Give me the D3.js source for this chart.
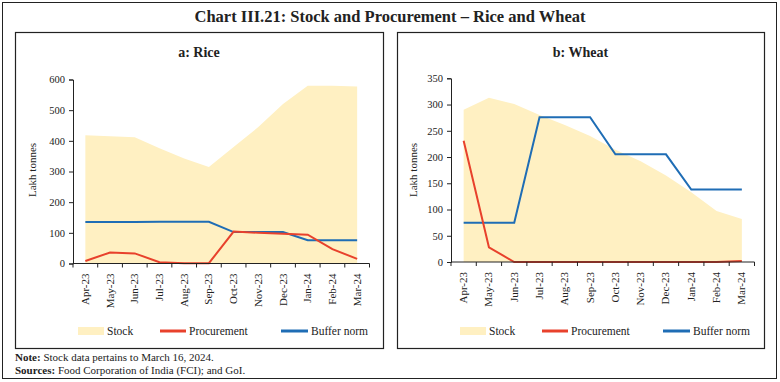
<!DOCTYPE html>
<html>
<head>
<meta charset="utf-8">
<script src="https://cdn.jsdelivr.net/npm/d3@7"></script>
<style>
  body { margin: 0; background: #fff; }
  svg text { font-family: "Liberation Serif", "DejaVu Serif", serif; fill: #222; }
</style>
</head>
<body>
<svg id="chart" width="780" height="382"></svg>
<script>
// Month labels shared by both panels
const months = ['Apr-23', 'May-23', 'Jun-23', 'Jul-23', 'Aug-23', 'Sep-23',
                'Oct-23', 'Nov-23', 'Dec-23', 'Jan-24', 'Feb-24', 'Mar-24'];

// Rice (lakh tonnes)
const riceStock = [418, 415, 412, 376, 342, 315, 380, 445, 520, 580, 580, 577];
const riceProcurement = [8, 36, 33, 4, 1, 1, 104, 100, 97, 94, 47, 15];
const riceBuffer = [135.4, 135.4, 135.4, 135.8, 135.8, 135.8, 102.5, 102.5, 102.5, 76.1, 76.1, 76.1];
const riceTicks = [0, 100, 200, 300, 400, 500, 600];

// Wheat (lakh tonnes)
const wheatStock = [290, 313, 301, 280, 261, 240, 214, 192, 165, 133, 97, 82];
const wheatProcurement = [231, 28, 0, 0, 0, 0, 0, 0, 0, 0, 0, 2];
const wheatBuffer = [74.6, 74.6, 74.6, 275.8, 275.8, 275.8, 205.2, 205.2, 205.2, 138, 138, 138];
const wheatTicks = [0, 50, 100, 150, 200, 250, 300, 350];

const stockColor = '#fff0c2';
const procColor = '#e8412c';
const bufferColor = '#1f6db5';

const svg = d3.select('#chart');

// Outer frame and main title
svg.append('rect')
    .attr('x', 2.5).attr('y', 2.5)
    .attr('width', 774).attr('height', 376)
    .attr('fill', 'none').attr('stroke', '#222').attr('stroke-width', 1);

svg.append('text')
    .attr('x', 390).attr('y', 22)
    .attr('text-anchor', 'middle')
    .style('font-size', '16.5px')
    .style('font-weight', 'bold')
    .text('Chart III.21: Stock and Procurement \u2013 Rice and Wheat');

// Draw one panel
function drawPanel(opts) {
    const g = svg.append('g');

    // panel border
    g.append('rect')
        .attr('x', opts.box[0] + 0.5).attr('y', 32.5)
        .attr('width', opts.box[1] - opts.box[0]).attr('height', 316)
        .attr('fill', '#fff').attr('stroke', '#222').attr('stroke-width', 1.2);

    g.append('text')
        .attr('x', (opts.box[0] + opts.box[1]) / 2).attr('y', 57)
        .attr('text-anchor', 'middle')
        .style('font-size', '14px')
        .style('font-weight', 'bold')
        .text(opts.title);

    const x = d3.scaleBand().domain(months).range([opts.x0, opts.x1]);
    const y = d3.scaleLinear().domain([0, opts.yMax]).range([opts.y0, opts.yTop]);
    const cx = m => x(m) + x.bandwidth() / 2;

    // stock area
    const area = d3.area()
        .x((d, i) => cx(months[i]))
        .y0(y(0))
        .y1(d => y(d));
    g.append('path')
        .datum(opts.stock)
        .attr('d', area)
        .attr('fill', stockColor);

    const line = d3.line()
        .x((d, i) => cx(months[i]))
        .y(d => y(d));

    g.append('path')
        .datum(opts.buffer)
        .attr('d', line)
        .attr('fill', 'none')
        .attr('stroke', bufferColor)
        .attr('stroke-width', 2);

    g.append('path')
        .datum(opts.proc)
        .attr('d', line)
        .attr('fill', 'none')
        .attr('stroke', procColor)
        .attr('stroke-width', 2);

    // y axis
    const yAxis = g.append('g')
        .attr('transform', `translate(${opts.x0},0)`)
        .call(d3.axisLeft(y).tickValues(opts.ticks).tickSize(4).tickPadding(4));
    yAxis.select('.domain').attr('stroke', '#222');
    yAxis.selectAll('.tick line').attr('stroke', '#222');
    yAxis.selectAll('text').style('font-size', '10.5px').attr('fill', '#222');

    // x axis: ticks at band edges
    const xAxis = g.append('g')
        .attr('transform', `translate(0,${opts.y0})`);
    xAxis.append('line')
        .attr('x1', opts.x0).attr('x2', opts.x1)
        .attr('stroke', '#222');
    const edges = months.map(m => x(m)).concat([opts.x1]);
    xAxis.selectAll('.edge')
        .data(edges)
        .enter().append('line')
        .attr('class', 'edge')
        .attr('x1', d => d).attr('x2', d => d)
        .attr('y1', 0).attr('y2', 4)
        .attr('stroke', '#222');
    xAxis.selectAll('.lbl')
        .data(months)
        .enter().append('text')
        .attr('class', 'lbl')
        .attr('transform', d => `translate(${cx(d) + 3.5},10) rotate(-90)`)
        .attr('text-anchor', 'end')
        .style('font-size', '11px')
        .text(d => d);

    // y axis title
    g.append('text')
        .attr('transform', `translate(${opts.yLabelX},170) rotate(-90)`)
        .attr('text-anchor', 'middle')
        .style('font-size', '11px')
        .text('Lakh tonnes');

    // legend
    const lx = opts.legendX;
    const ly = 331;
    g.append('rect')
        .attr('x', lx).attr('y', ly - 4)
        .attr('width', 26).attr('height', 8)
        .attr('fill', stockColor);
    g.append('text').attr('x', lx + 29).attr('y', ly + 4)
        .style('font-size', '11.5px').text('Stock');
    g.append('line')
        .attr('x1', lx + 82).attr('x2', lx + 108)
        .attr('y1', ly).attr('y2', ly)
        .attr('stroke', procColor).attr('stroke-width', 3);
    g.append('text').attr('x', lx + 111).attr('y', ly + 4)
        .style('font-size', '11.5px').text('Procurement');
    g.append('line')
        .attr('x1', lx + 203).attr('x2', lx + 230)
        .attr('y1', ly).attr('y2', ly)
        .attr('stroke', bufferColor).attr('stroke-width', 3);
    g.append('text').attr('x', lx + 233).attr('y', ly + 4)
        .style('font-size', '11.5px').text('Buffer norm');
}

drawPanel({
    title: 'a: Rice', box: [15, 383],
    x0: 73, x1: 369.5, y0: 263.5, yTop: 79.5, yMax: 600,
    ticks: riceTicks, stock: riceStock, proc: riceProcurement, buffer: riceBuffer,
    yLabelX: 36, legendX: 78
});

drawPanel({
    title: 'b: Wheat', box: [397, 764],
    x0: 451, x1: 754.5, y0: 262, yTop: 78.3, yMax: 350,
    ticks: wheatTicks, stock: wheatStock, proc: wheatProcurement, buffer: wheatBuffer,
    yLabelX: 417, legendX: 460
});

// footnotes
const note = svg.append('text').attr('x', 15).attr('y', 361).style('font-size', '11px');
note.append('tspan').style('font-weight', 'bold').text('Note: ');
note.append('tspan').text('Stock data pertains to March 16, 2024.');

const src = svg.append('text').attr('x', 15).attr('y', 374).style('font-size', '11px');
src.append('tspan').style('font-weight', 'bold').text('Sources: ');
src.append('tspan').text('Food Corporation of India (FCI); and GoI.');
</script>
</body>
</html>
